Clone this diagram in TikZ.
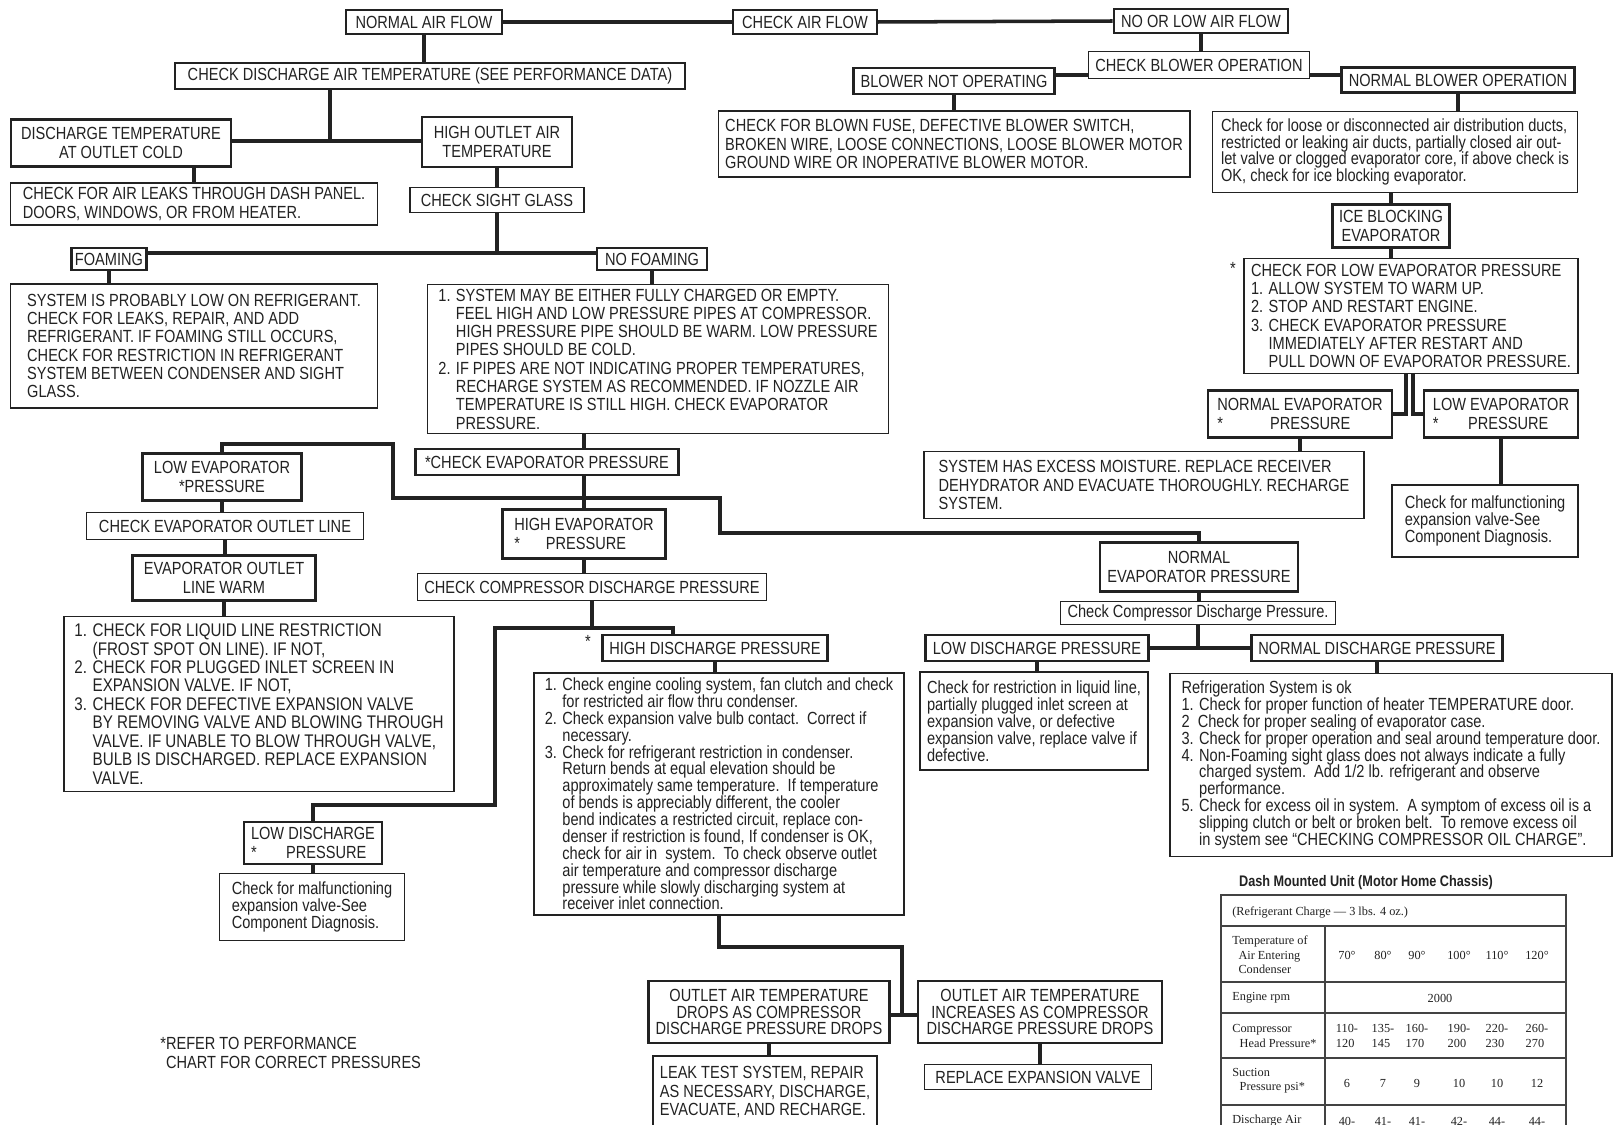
\documentclass[tikz,border=0pt]{standalone}
\usepackage{fontspec}
\setmainfont{Liberation Sans}[FakeStretch=0.83]
\newfontfamily\tabfont{Liberation Serif}
\definecolor{ink}{HTML}{222222}
\newcommand{\capstext}{\fontsize{10}{10.4}\selectfont}
\newcommand{\widecaps}{\fontsize{10.4}{10.5}\selectfont}
\newcommand{\tightcaps}{\fontsize{10}{9.6}\selectfont}
\newcommand{\smalltext}{\fontsize{10}{9.6}\selectfont}
\newcommand{\ind}{\hphantom{1. }}
\tikzset{
  thickbox/.style={draw=ink, line width=1.6pt, inner xsep=4pt, inner ysep=2pt, align=center, text=ink, font=\capstext},
  thinbox/.style={draw=ink, line width=0.8pt, inner xsep=4pt, inner ysep=2pt, align=center, text=ink, font=\capstext},
  textbox/.style={thinbox, align=left},
  smallbox/.style={textbox, font=\smalltext},
  link/.style={draw=ink, line width=2pt},
  tline/.style={draw=ink!85, line width=0.9pt},
  tabtext/.style={inner sep=0pt, text=ink, font=\tabfont\fontsize{7}{8.2}\selectfont},
}
\begin{document}
\begin{tikzpicture}[x=0.02cm, y=-0.02cm]
\useasboundingbox (0,0) rectangle (1617,1125);
\fill[white] (0,0) rectangle (1617,1125);
% air flow
\node[thickbox, minimum width=3.12cm, minimum height=0.48cm] (naf) at (424,22) {NORMAL AIR FLOW};
\node[thinbox, minimum width=2.88cm, minimum height=0.48cm] (caf) at (805,22) {CHECK AIR FLOW};
\node[thickbox, minimum width=3.48cm, minimum height=0.48cm] (nlaf) at (1201,21) {NO OR LOW AIR FLOW};
\node[thickbox, minimum width=10.2cm, minimum height=0.52cm] (cdat) at (430,76) {CHECK DISCHARGE AIR TEMPERATURE (SEE PERFORMANCE DATA)};
% blower side
\node[thinbox, minimum width=4.42cm, minimum height=0.54cm] (cbo) at (1199,65) {CHECK BLOWER OPERATION};
\node[thickbox, minimum width=4.0cm, minimum height=0.52cm] (bno) at (954,81) {BLOWER NOT OPERATING};
\node[thickbox, minimum width=4.64cm, minimum height=0.5cm] (nbo) at (1458,80) {NORMAL BLOWER OPERATION};
\node[textbox, minimum width=9.28cm, minimum height=1.32cm] (cbf) at (954,144) {CHECK FOR BLOWN FUSE, DEFECTIVE BLOWER SWITCH,\\BROKEN WIRE, LOOSE CONNECTIONS, LOOSE BLOWER MOTOR\\GROUND WIRE OR INOPERATIVE BLOWER MOTOR.};
\node[smallbox, minimum width=7.3cm, minimum height=1.62cm] (cld) at (1395,152) {Check for loose or disconnected air distribution ducts,\\restricted or leaking air ducts, partially closed air out-\\let valve or clogged evaporator core, if above check is\\OK, check for ice blocking evaporator.};
\node[thickbox, minimum width=2.3cm, minimum height=0.86cm] (ibe) at (1391,226) {ICE BLOCKING\\EVAPORATOR};
\node[textbox, minimum width=6.68cm, minimum height=2.3cm] (cflep) at (1411,316) {CHECK FOR LOW EVAPORATOR PRESSURE\\1. ALLOW SYSTEM TO WARM UP.\\2. STOP AND RESTART ENGINE.\\3. CHECK EVAPORATOR PRESSURE\\\ind IMMEDIATELY AFTER RESTART AND\\\ind PULL DOWN OF EVAPORATOR PRESSURE.};
\node[text=ink, font=\capstext] (cstar) at (1233,268) {*};
\node[thickbox, minimum width=3.68cm, minimum height=0.94cm, align=left] (nepr) at (1300,414) {NORMAL EVAPORATOR\\\makebox[3em][l]{*}PRESSURE};
\node[thickbox, minimum width=3.08cm, minimum height=0.94cm, align=left] (lepr) at (1501,414) {LOW EVAPORATOR\\\makebox[2em][l]{*}PRESSURE};
\node[textbox, minimum width=8.8cm, minimum height=1.34cm] (sem) at (1144,485) {SYSTEM HAS EXCESS MOISTURE. REPLACE RECEIVER\\DEHYDRATOR AND EVACUATE THOROUGHLY. RECHARGE\\SYSTEM.};
\node[smallbox, minimum width=3.72cm, minimum height=1.44cm] (cmr) at (1485,521) {Check for malfunctioning\\expansion valve-See\\Component Diagnosis.};
% discharge temperature side
\node[thickbox, minimum width=4.4cm, minimum height=0.94cm] (dtoc) at (121,143) {DISCHARGE TEMPERATURE\\AT OUTLET COLD};
\node[thickbox, minimum width=3.0cm, minimum height=1.0cm] (hoat) at (497,142) {HIGH OUTLET AIR\\TEMPERATURE};
\node[textbox, minimum width=7.34cm, minimum height=0.84cm] (cfal) at (194,204) {CHECK FOR AIR LEAKS THROUGH DASH PANEL.\\DOORS, WINDOWS, OR FROM HEATER.};
\node[thinbox, minimum width=3.48cm, minimum height=0.5cm] (csg) at (497,200) {CHECK SIGHT GLASS};
\node[thickbox, minimum width=1.48cm, minimum height=0.44cm, inner xsep=2pt] (foam) at (109,259) {FOAMING};
\node[thickbox, minimum width=2.2cm, minimum height=0.44cm] (nofoam) at (652,259) {NO FOAMING};
\node[textbox, minimum width=7.34cm, minimum height=2.48cm] (lowref) at (194,346) {SYSTEM IS PROBABLY LOW ON REFRIGERANT.\\CHECK FOR LEAKS, REPAIR, AND ADD\\REFRIGERANT. IF FOAMING STILL OCCURS,\\CHECK FOR RESTRICTION IN REFRIGERANT\\SYSTEM BETWEEN CONDENSER AND SIGHT\\GLASS.};
\node[textbox, minimum width=9.22cm, minimum height=2.98cm] (nflist) at (658,359) {1. SYSTEM MAY BE EITHER FULLY CHARGED OR EMPTY.\\\ind FEEL HIGH AND LOW PRESSURE PIPES AT COMPRESSOR.\\\ind HIGH PRESSURE PIPE SHOULD BE WARM. LOW PRESSURE\\\ind PIPES SHOULD BE COLD.\\2. IF PIPES ARE NOT INDICATING PROPER TEMPERATURES,\\\ind RECHARGE SYSTEM AS RECOMMENDED. IF NOZZLE AIR\\\ind TEMPERATURE IS STILL HIGH. CHECK EVAPORATOR\\\ind PRESSURE.};
% evaporator pressure
\node[thickbox, minimum width=5.26cm, minimum height=0.52cm] (cep) at (547,462) {*CHECK EVAPORATOR PRESSURE};
\node[thickbox, minimum width=3.18cm, minimum height=0.94cm] (lepl) at (222,477) {LOW EVAPORATOR\\*PRESSURE};
\node[thinbox, minimum width=5.54cm, minimum height=0.54cm] (ceol) at (225,526) {CHECK EVAPORATOR OUTLET LINE};
\node[thickbox, minimum width=3.66cm, minimum height=0.9cm] (eolw) at (224,578) {EVAPORATOR OUTLET\\LINE WARM};
\node[textbox, minimum width=7.8cm, minimum height=3.5cm, font=\widecaps] (lllist) at (259,704) {1. CHECK FOR LIQUID LINE RESTRICTION\\\ind (FROST SPOT ON LINE). IF NOT,\\2. CHECK FOR PLUGGED INLET SCREEN IN\\\ind EXPANSION VALVE. IF NOT,\\3. CHECK FOR DEFECTIVE EXPANSION VALVE\\\ind BY REMOVING VALVE AND BLOWING THROUGH\\\ind VALVE. IF UNABLE TO BLOW THROUGH VALVE,\\\ind BULB IS DISCHARGED. REPLACE EXPANSION\\\ind VALVE.};
\node[thickbox, minimum width=3.26cm, minimum height=0.98cm, align=left] (hep) at (584,534) {HIGH EVAPORATOR\\\makebox[1.8em][l]{*}PRESSURE};
\node[thinbox, minimum width=6.62cm, minimum height=0.54cm] (ccdp) at (592,587) {CHECK COMPRESSOR DISCHARGE PRESSURE};
\node[thickbox, minimum width=4.4cm, minimum height=0.52cm] (hdp) at (715,648) {HIGH DISCHARGE PRESSURE};
\node[text=ink, font=\capstext] (hstar) at (588,641) {*};
\node[smallbox, minimum width=7.4cm, minimum height=4.84cm] (hdplist) at (719,794) {1. Check engine cooling system, fan clutch and check\\\ind for restricted air flow thru condenser.\\2. Check expansion valve bulb contact.\ \ Correct if\\\ind necessary.\\3. Check for refrigerant restriction in condenser.\\\ind Return bends at equal elevation should be\\\ind approximately same temperature.\ \ If temperature\\\ind of bends is appreciably different, the cooler\\\ind bend indicates a restricted circuit, replace con-\\\ind denser if restriction is found, If condenser is OK,\\\ind check for air in\ \ system.\ \ To check observe outlet\\\ind air temperature and compressor discharge\\\ind pressure while slowly discharging system at\\\ind receiver inlet connection.};
\node[thickbox, minimum width=2.74cm, minimum height=0.84cm, align=left] (ldpl) at (313,843) {LOW DISCHARGE\\\makebox[2em][l]{*}PRESSURE};
\node[smallbox, minimum width=3.7cm, minimum height=1.34cm] (cml) at (312,907) {Check for malfunctioning\\expansion valve-See\\Component Diagnosis.};
\node[thickbox, minimum width=4.66cm, minimum height=1.24cm, font=\tightcaps] (oatd) at (769,1012) {OUTLET AIR TEMPERATURE\\DROPS AS COMPRESSOR\\DISCHARGE PRESSURE DROPS};
\node[thickbox, minimum width=4.88cm, minimum height=1.24cm, font=\tightcaps] (oati) at (1040,1012) {OUTLET AIR TEMPERATURE\\INCREASES AS COMPRESSOR\\DISCHARGE PRESSURE DROPS};
\node[thinbox, minimum width=4.48cm, minimum height=1.44cm, align=left] (ltest) at (765,1092) {LEAK TEST SYSTEM, REPAIR\\AS NECESSARY, DISCHARGE,\\EVACUATE, AND RECHARGE.};
\node[thinbox, minimum width=4.54cm, minimum height=0.5cm] (rev) at (1038,1077) {REPLACE EXPANSION VALVE};
% normal evaporator pressure
\node[thickbox, minimum width=3.96cm, minimum height=0.98cm] (nepm) at (1199,567) {NORMAL\\EVAPORATOR PRESSURE};
\node[thinbox, minimum width=5.0cm, minimum height=0.42cm, font=\smalltext] (ccdp2) at (1198,613) {Check Compressor Discharge Pressure.};
\node[thickbox, minimum width=4.24cm, minimum height=0.52cm] (ldp2) at (1037,648) {LOW DISCHARGE PRESSURE};
\node[thickbox, minimum width=4.92cm, minimum height=0.52cm] (ndp) at (1377,648) {NORMAL DISCHARGE PRESSURE};
\node[smallbox, minimum width=4.54cm, minimum height=1.96cm] (crl) at (1034,721) {Check for restriction in liquid line,\\partially plugged inlet screen at\\expansion valve, or defective\\expansion valve, replace valve if\\defective.};
\node[smallbox, minimum width=8.84cm, minimum height=3.66cm] (rsok) at (1391,765) {Refrigeration System is ok\\1. Check for proper function of heater TEMPERATURE door.\\2\hphantom{.} Check for proper sealing of evaporator case.\\3. Check for proper operation and seal around temperature door.\\4. Non-Foaming sight glass does not always indicate a fully\\\ind charged system.\ \ Add 1/2 lb. refrigerant and observe\\\ind performance.\\5. Check for excess oil in system.\ \ A symptom of excess oil is a\\\ind slipping clutch or belt or broken belt.\ \ To remove excess oil\\\ind in system see ``CHECKING COMPRESSOR OIL CHARGE''.};
\node[anchor=west, align=left, inner sep=0pt, text=ink, font=\capstext] (note) at (160,1053) {*REFER TO PERFORMANCE\\\hphantom{*}CHART FOR CORRECT PRESSURES};
% connectors
\coordinate (jdt) at (330,141);
\coordinate (jsg) at (497,253);
\coordinate (b1) at (393,444);
\coordinate (b2) at (720,498);
\coordinate (b3) at (720,533);
\coordinate (b4) at (495,805);
\coordinate (b5) at (673,628);
\coordinate (b6) at (902,947);
\coordinate (jo) at (902,1015);
\draw[link] (naf.east) -- (caf.west);
\draw[link] (caf.east) -- (nlaf.west);
\draw[link] (naf.south) -- (naf.south |- cdat.north);
\draw[link] (nlaf.south) -- (nlaf.south |- cbo.north);
\draw[link] (bno.east |- 0,75) -- (cbo.west |- 0,75);
\draw[link] (cbo.east |- 0,75) -- (nbo.west |- 0,75);
\draw[link] (bno.south) -- (cbf.north);
\draw[link] (nbo.south) -- (nbo.south |- cld.north);
\draw[link] (cld.south -| ibe.north) -- (ibe.north);
\draw[link] (ibe.south) -- (ibe.south |- cflep.north);
\draw[link] (1406,0 |- cflep.south) |- (nepr.east);
\draw[link] (1413,0 |- cflep.south) |- (lepr.west);
\draw[link] (nepr.south) -- (nepr.south |- sem.north);
\draw[link] (lepr.south) -- (lepr.south |- cmr.north);
\draw[link] (cdat.south -| jdt) -- (jdt);
\draw[link] (dtoc.east |- jdt) -- (hoat.west |- jdt);
\draw[link] (cfal.north |- dtoc.south) -- (cfal.north);
\draw[link] (hoat.south) -- (csg.north);
\draw[link] (csg.south) -- (jsg);
\draw[link] (foam.east |- jsg) -- (nofoam.west |- jsg);
\draw[link] (foam.south) -- (foam.south |- lowref.north);
\draw[link] (nofoam.south) -- (nofoam.south |- nflist.north);
\draw[link] (nflist.south -| hep.north) -- (cep.north -| hep.north);
\draw[link] (cep.south -| hep.north) -- (hep.north);
\draw[link] (lepl.north) |- (b1) |- (b2) -- (b3) -| (nepm.north);
\draw[link] (lepl.south) -- (lepl.south |- ceol.north);
\draw[link] (ceol.south) -- (ceol.south |- eolw.north);
\draw[link] (eolw.south) -- (eolw.south |- lllist.north);
\draw[link] (hep.south) -- (hep.south |- ccdp.north);
\draw[link] (ccdp.south) -- (ccdp.south |- b5);
\draw[link] (ldpl.north) |- (b4) |- (b5) -- (hdp.north -| b5);
\draw[link] (hdp.south) -- (hdp.south |- hdplist.north);
\draw[link] (ldpl.south) -- (ldpl.south |- cml.north);
\draw[link] (hdplist.south) |- (b6) -- (jo);
\draw[link] (oatd.east |- jo) -- (oati.west |- jo);
\draw[link] (oatd.south) -- (oatd.south |- ltest.north);
\draw[link] (oati.south) -- (oati.south |- rev.north);
\draw[link] (nepm.south) -- (nepm.south |- ccdp2.north);
\draw[link] (ccdp2.south) -- (ccdp2.south |- ldp2.east);
\draw[link] (ldp2.east) -- (ndp.west);
\draw[link] (ldp2.south) -- (ldp2.south |- crl.north);
\draw[link] (ndp.south) -- (ndp.south |- rsok.north);
% performance table
\node[inner sep=0pt, text=ink, font=\bfseries\fontsize{8.7}{9}\selectfont] (ttl) at (1366,883) {Dash Mounted Unit (Motor Home Chassis)};
\draw[tline] (1221,895) rectangle (1566,1140);
\draw[tline] (1221,926) -- (1566,926);
\draw[tline] (1221,982) -- (1566,982);
\draw[tline] (1221,1013) -- (1566,1013);
\draw[tline] (1221,1058) -- (1566,1058);
\draw[tline] (1221,1105) -- (1566,1105);
\draw[tline] (1325,926) -- (1325,1140);
\node[tabtext, anchor=west] (tchg) at (1232,912) {(Refrigerant Charge \textemdash\ 3 lbs. 4 oz.)};
\node[tabtext, anchor=west, align=left] (ttmp) at (1232,955) {Temperature of\\\hspace*{0.5em}Air Entering\\\hspace*{0.5em}Condenser};
\node[tabtext] (c1) at (1347,955) {70\textdegree}; \node[tabtext] (c2) at (1383,955) {80\textdegree}; \node[tabtext] (c3) at (1417,955) {90\textdegree};
\node[tabtext] (c4) at (1459,955) {100\textdegree}; \node[tabtext] (c5) at (1497,955) {110\textdegree}; \node[tabtext] (c6) at (1537,955) {120\textdegree};
\node[tabtext, anchor=west] (trpm) at (1232,998) {Engine rpm}; \node[tabtext] (rpm) at (1440,998) {2000};
\node[tabtext, anchor=west, align=left] (thead) at (1232,1036) {Compressor\\\hspace*{0.6em}Head Pressure*};
\node[tabtext, align=left] (h1) at (1347,1036) {110-\\120}; \node[tabtext, align=left] (h2) at (1383,1036) {135-\\145}; \node[tabtext, align=left] (h3) at (1417,1036) {160-\\170};
\node[tabtext, align=left] (h4) at (1459,1036) {190-\\200}; \node[tabtext, align=left] (h5) at (1497,1036) {220-\\230}; \node[tabtext, align=left] (h6) at (1537,1036) {260-\\270};
\node[tabtext, anchor=west, align=left] (tsuc) at (1232,1081) {Suction\\\hspace*{0.6em}Pressure psi*};
\node[tabtext] (s1) at (1347,1083) {6}; \node[tabtext] (s2) at (1383,1083) {7}; \node[tabtext] (s3) at (1417,1083) {9};
\node[tabtext] (s4) at (1459,1083) {10}; \node[tabtext] (s5) at (1497,1083) {10}; \node[tabtext] (s6) at (1537,1083) {12};
\node[tabtext, anchor=west] (tdis) at (1232,1121) {Discharge Air};
\node[tabtext] (d1) at (1347,1121) {40-}; \node[tabtext] (d2) at (1383,1121) {41-}; \node[tabtext] (d3) at (1417,1121) {41-};
\node[tabtext] (d4) at (1459,1121) {42-}; \node[tabtext] (d5) at (1497,1121) {44-}; \node[tabtext] (d6) at (1537,1121) {44-};
\end{tikzpicture}
\end{document}
